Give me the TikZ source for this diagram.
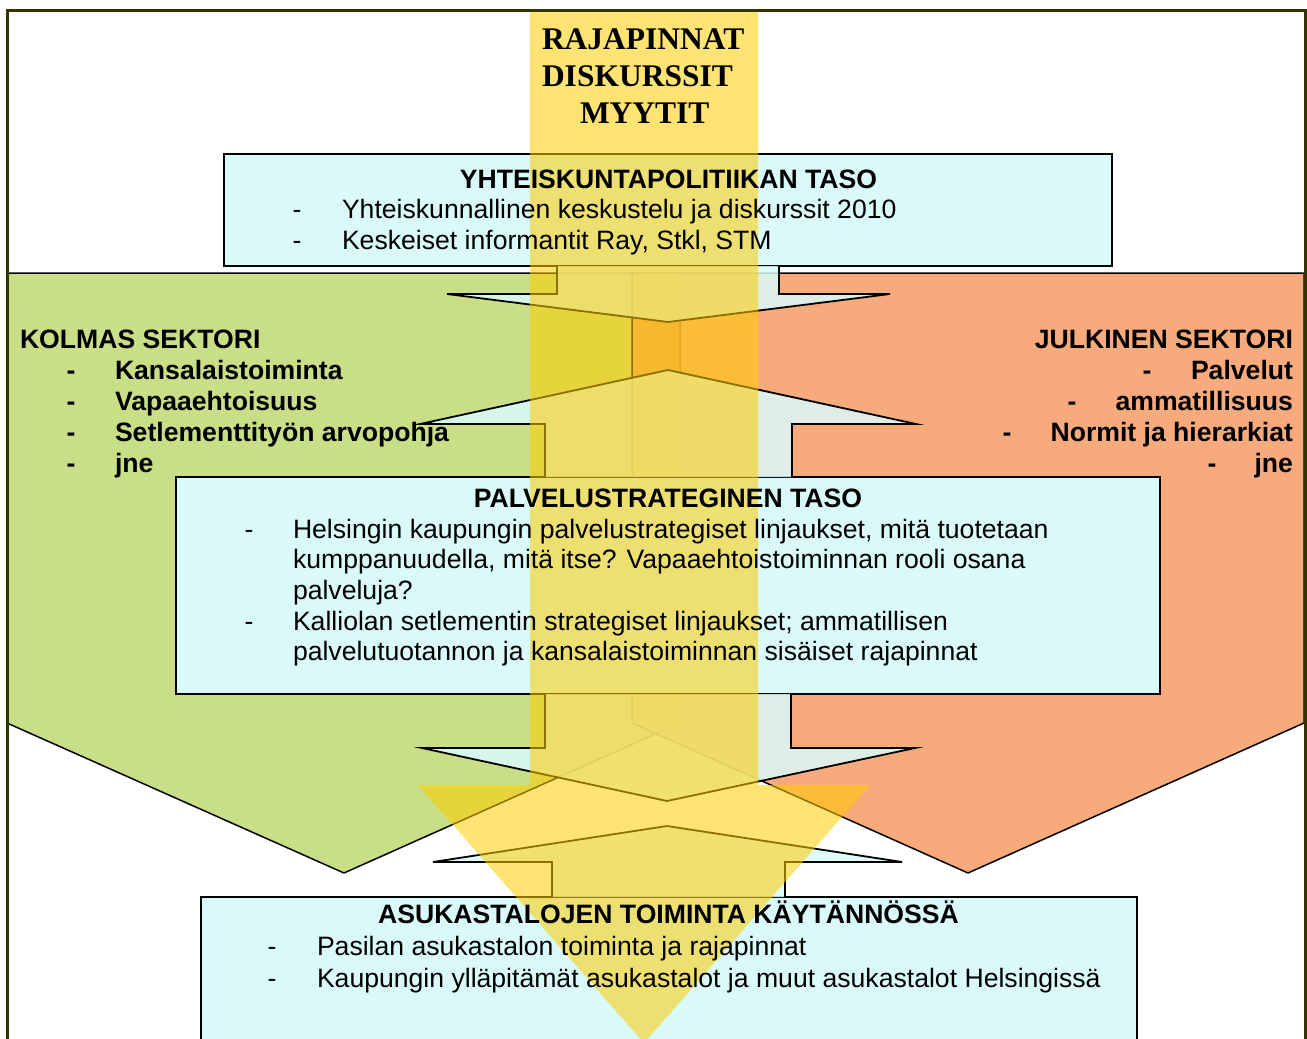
\documentclass[tikz,border=0pt]{standalone}
\usepackage{fontspec}
\setmainfont{Liberation Sans}
\newfontfamily\titlefont{Liberation Serif}
\usetikzlibrary{calc}
\definecolor{greenfill}{RGB}{200,222,135}
\definecolor{orangefill}{RGB}{245,149,92}
\definecolor{cyanfill}{RGB}{218,250,250}
\definecolor{yellowfill}{RGB}{255,204,0}
\definecolor{framecol}{RGB}{51,51,0}
\begin{document}
\begin{tikzpicture}[x=1pt,y=-1pt,
  sector/.style={draw=black, line width=1.5pt, line join=miter},
  boxstyle/.style={draw=black, line width=2pt, fill=cyanfill, inner sep=0pt, outer sep=0pt, anchor=north west},
  blockarrow/.style={draw=black, line width=1.8pt, fill=cyanfill, fill opacity=0.85, line join=miter},
  body/.style={font=\fontsize{26.6}{30}\selectfont, inner sep=0pt, outer sep=0pt, anchor=base west},
  bodyb/.style={body, font=\fontsize{26.6}{30}\selectfont\bfseries},
  dashr/.style={body, anchor=base},
  dashb/.style={bodyb, anchor=base},
  headb/.style={bodyb, anchor=base},
  titletext/.style={font=\titlefont\bfseries\fontsize{31.5}{36}\selectfont, inner sep=0pt, outer sep=0pt, anchor=base west}]
\useasboundingbox (0,0) rectangle (1307,1039);
\clip (0,0) rectangle (1307,1039);
\fill[white] (0,0) rectangle (1307,1039);

% sector pentagons
\filldraw[sector, fill=greenfill] (7,273) -- (680,273) -- (680,723) -- (344,873) -- (7,723) -- cycle;
\filldraw[sector, fill=orangefill, fill opacity=0.8] (632,273) -- (1304,273) -- (1304,723) -- (968,873) -- (632,723) -- cycle;

% boxes
\node[boxstyle, minimum width=888pt, minimum height=112pt] (topbox) at (224,154) {};
\node[boxstyle, minimum width=984pt, minimum height=217pt] (midbox) at (176,477) {};
\node[boxstyle, minimum width=936pt, minimum height=170pt] (botbox) at (201,897) {};

% block arrows between levels
\filldraw[blockarrow] ($(topbox.south)+(-111,0)$) -- ($(topbox.south)+(-111,28)$) -- ($(topbox.south)+(-221,28)$)
  -- ($(topbox.south)+(0,56)$) -- ($(topbox.south)+(222,28)$) -- ($(topbox.south)+(111,28)$) -- ($(topbox.south)+(111,0)$);
\filldraw[blockarrow] ($(midbox.north)+(-123,0)$) -- ($(midbox.north)+(-123,-53)$) -- ($(midbox.north)+(-248,-53)$)
  -- ($(midbox.north)+(0,-107)$) -- ($(midbox.north)+(248,-53)$) -- ($(midbox.north)+(124,-53)$) -- ($(midbox.north)+(124,0)$);
\filldraw[blockarrow] ($(midbox.south)+(-123,0)$) -- ($(midbox.south)+(-123,54)$) -- ($(midbox.south)+(-246,54)$)
  -- ($(midbox.south)+(-1,107)$) -- ($(midbox.south)+(247,54)$) -- ($(midbox.south)+(123,54)$) -- ($(midbox.south)+(123,0)$);
\filldraw[blockarrow] ($(botbox.north)+(-117,0)$) -- ($(botbox.north)+(-117,-35)$) -- ($(botbox.north)+(-236,-35)$)
  -- ($(botbox.north)+(-2,-71)$) -- ($(botbox.north)+(233,-35)$) -- ($(botbox.north)+(116,-35)$) -- ($(botbox.north)+(116,0)$);

% big yellow arrow
\fill[yellowfill, opacity=0.55] (530,10) -- (758,10) -- (758,785) -- (870,785) -- (644,1043) -- (418,785) -- (530,785) -- cycle;

% title
\node[titletext] (t1) at (542,49) {RAJAPINNAT};
\node[titletext] (t2) at (542,86) {DISKURSSIT};
\node[titletext] (t3) at (580,123) {MYYTIT};

% top box text
\node[headb] (h1) at (668.5,188) {YHTEISKUNTAPOLITIIKAN TASO};
\node[dashr] (d1a) at (297,218) {-};
\node[body] (l1a) at (342,218) {Yhteiskunnallinen keskustelu ja diskurssit 2010};
\node[dashr] (d1b) at (297,249) {-};
\node[body] (l1b) at (342,249) {Keskeiset informantit Ray, Stkl, STM};

% left sector text
\node[bodyb] (ks) at (20,348) {KOLMAS SEKTORI};
\node[dashb] (dk1) at (71,379) {-};
\node[bodyb] (k1) at (115,379) {Kansalaistoiminta};
\node[dashb] (dk2) at (71,410) {-};
\node[bodyb] (k2) at (115,410) {Vapaaehtoisuus};
\node[dashb] (dk3) at (71,441) {-};
\node[bodyb] (k3) at (115,441) {Setlementtityön arvopohja};
\node[dashb] (dk4) at (71,472) {-};
\node[bodyb] (k4) at (115,472) {jne};

% right sector text
\node[bodyb, anchor=base east] (js) at (1293,348) {JULKINEN SEKTORI};
\node[dashb] (dj1) at (1147,379) {-};
\node[bodyb, anchor=base east] (j1) at (1293,379) {Palvelut};
\node[dashb] (dj2) at (1072,410) {-};
\node[bodyb, anchor=base east] (j2) at (1293,410) {ammatillisuus};
\node[dashb] (dj3) at (1007,441) {-};
\node[bodyb, anchor=base east] (j3) at (1293,441) {Normit ja hierarkiat};
\node[dashb] (dj4) at (1212,472) {-};
\node[bodyb, anchor=base east] (j4) at (1293,472) {jne};

% middle box text
\node[headb] (h2) at (668,507) {PALVELUSTRATEGINEN TASO};
\node[dashr] (d2a) at (249,538) {-};
\node[body] (m1) at (293,538) {Helsingin kaupungin palvelustrategiset linjaukset, mitä tuotetaan};
\node[body] (m2) at (293,568) {kumppanuudella, mitä itse? Vapaaehtoistoiminnan rooli osana};
\node[body] (m3) at (293,599) {palveluja?};
\node[dashr] (d2b) at (249,630) {-};
\node[body] (m4) at (293,630) {Kalliolan setlementin strategiset linjaukset; ammatillisen};
\node[body] (m5) at (293,660) {palvelutuotannon ja kansalaistoiminnan sisäiset rajapinnat};

% bottom box text
\node[headb] (h3) at (668.5,923) {ASUKASTALOJEN TOIMINTA KÄYTÄNNÖSSÄ};
\node[dashr] (d3a) at (272,955) {-};
\node[body] (b1) at (317,955) {Pasilan asukastalon toiminta ja rajapinnat};
\node[dashr] (d3b) at (272,987) {-};
\node[body] (b2) at (317,987) {Kaupungin ylläpitämät asukastalot ja muut asukastalot Helsingissä};

% outer frame
\draw[framecol, line width=3pt] (7,1060) -- (7,10) -- (1305,10) -- (1305,1060);
\end{tikzpicture}
\end{document}
